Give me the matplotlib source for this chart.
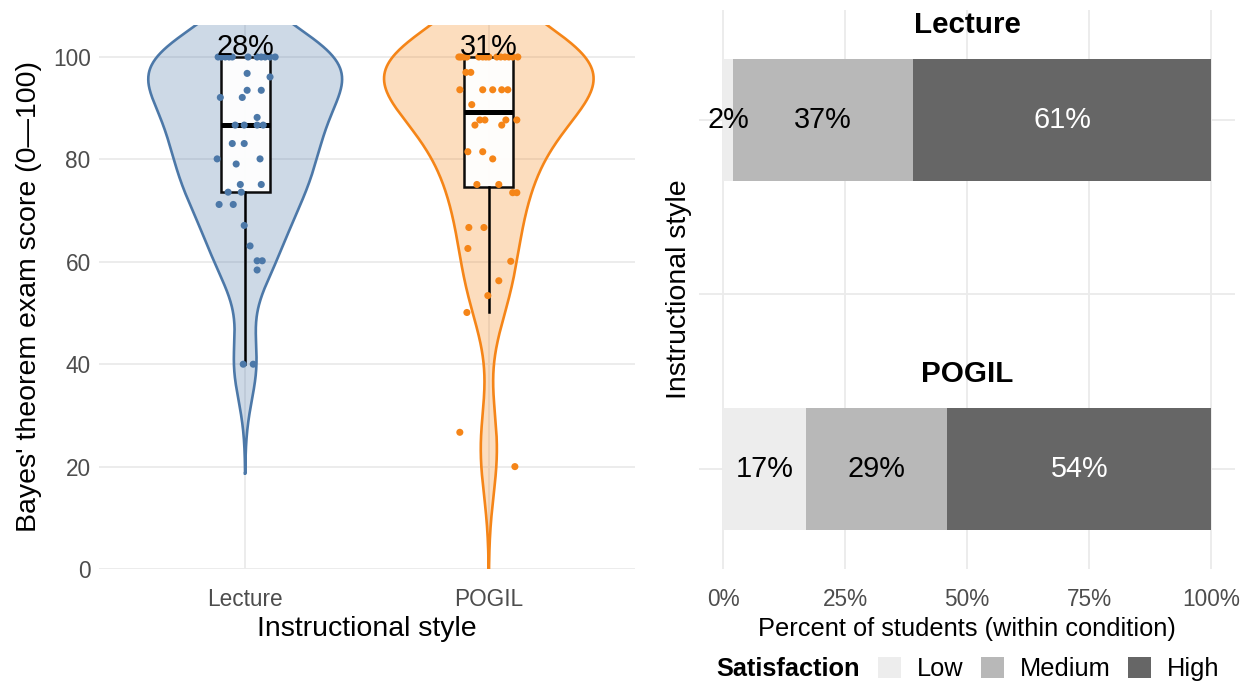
import numpy as np
import matplotlib.pyplot as plt
from matplotlib import cbook
from matplotlib.patches import Patch

plt.rcParams["font.family"] = ["Liberation Sans", "DejaVu Sans"]

# ---------------- data ----------------
styles = ["Lecture", "POGIL"]
style_colors = ["#4C78A8", "#F58518"]
perfect_labels = ["28%", "31%"]

# exam scores, with the horizontal jitter of each dot
lecture_scores = [100] * 11 + [96.8, 96.1, 93.5, 93.5, 92.1, 92.1, 88.2,
                               86.7, 86.7, 86.7, 86.7, 83.1, 83.1, 80.1, 80.1,
                               79.1, 75.1, 75.1, 73.6, 73.6, 71.2, 71.2, 67.1,
                               63.1, 60.2, 60.2, 58.4, 40.0, 40.0]
lecture_jitter = [-0.111, -0.098, -0.082, -0.066, -0.053, 0.012, 0.049, 0.066,
                  0.082, 0.102, 0.123,
                  0.008, 0.102, 0.008, 0.066, -0.102, -0.012, 0.049,
                  -0.041, -0.004, 0.049, 0.074, -0.053, -0.004, -0.115, 0.061,
                  -0.037, -0.020, 0.066, -0.070, -0.016, -0.107, -0.049, -0.004,
                  0.020, 0.049, 0.070, 0.049, -0.008, 0.033]

pogil_scores = [100] * 14 + [97.0, 97.0, 93.6, 93.6, 93.6, 93.6, 93.6, 90.7,
                             87.7, 87.7, 87.7, 87.7, 86.7, 86.7, 81.5, 81.5,
                             80.1, 75.1, 75.1, 73.5, 73.5, 66.7, 66.7, 62.6,
                             60.1, 56.3, 53.4, 50.1, 26.7, 20.0]
pogil_jitter = [-0.123, -0.115, -0.102, -0.090, -0.041, -0.025, -0.012, 0.0,
                0.033, 0.049, 0.066, 0.082, 0.098, 0.119,
                -0.094, -0.074, -0.119, -0.025, 0.016, 0.053, 0.078, -0.070,
                -0.037, -0.016, 0.070, 0.115, -0.057, 0.053, -0.086, -0.025,
                0.016, -0.049, 0.041, 0.098, 0.115, -0.082, -0.020, -0.086,
                0.090, 0.041, -0.004, -0.090, -0.119, 0.107]

satisfaction = ["Low", "Medium", "High"]
sat_colors = ["#EDEDED", "#B8B8B8", "#666666"]
sat_text_colors = ["black", "black", "white"]
lecture_pct = [2, 37, 61]
pogil_pct = [17, 29, 54]
pct_ticks = [0, 25, 50, 75, 100]

GRID = "#EBEBEB"
TICK = "#4D4D4D"
TITLE_FS = 20.5
TICK_FS = 16.3


def bw_nrd0(x):
    x = np.asarray(x, float)
    q1, q3 = np.percentile(x, [25, 75])
    return 0.9 * min(x.std(ddof=1), (q3 - q1) / 1.34) * len(x) ** -0.2


def kde(x, n=512):
    x = np.asarray(x, float)
    bw = bw_nrd0(x)
    grid = np.linspace(x.min() - 3 * bw, x.max() + 3 * bw, n)
    dens = np.exp(-0.5 * ((grid[:, None] - x[None, :]) / bw) ** 2).sum(1)
    dens /= len(x) * bw * np.sqrt(2 * np.pi)
    return grid, dens


fig = plt.figure(figsize=(12.44, 6.82), dpi=100)
W, H = 1244, 682

# ---------------- left: violin + box + points ----------------
ax1 = fig.add_axes([99 / W, 1 - 569 / H, 536 / W, 544 / H])
groups = [lecture_scores, pogil_scores]
jitters = [lecture_jitter, pogil_jitter]
dens = [kde(g) for g in groups]
dmax = max(d.max() for _, d in dens)

for i, ((grid, d), col) in enumerate(zip(dens, style_colors)):
    pos = i + 1
    hw = 0.43 * d / dmax
    ax1.fill_betweenx(grid, pos - hw, pos + hw, facecolor=col, alpha=0.28,
                      edgecolor="none", zorder=2)
    xs = np.concatenate([pos - hw, (pos + hw)[::-1], [pos - hw[0]]])
    ys = np.concatenate([grid, grid[::-1], [grid[0]]])
    ax1.plot(xs, ys, color=col, lw=1.9, zorder=3)

stats = cbook.boxplot_stats(groups, whis=1.5)
ax1.bxp(stats, positions=[1, 2], widths=0.2, showfliers=False, showcaps=False,
        patch_artist=True,
        boxprops=dict(facecolor="white", alpha=0.95, edgecolor="black", lw=1.8),
        whiskerprops=dict(color="black", lw=1.8),
        medianprops=dict(color="black", lw=3.6), zorder=4)

for i, (g, j, col) in enumerate(zip(groups, jitters, style_colors)):
    ax1.scatter(np.array(j) + i + 1, g, s=26, color=col, edgecolors="none", zorder=5)
    ax1.text(i + 1, 100.4, perfect_labels[i], ha="center", va="baseline",
             fontsize=20.8, color="black", zorder=6)

ax1.set_xlim(0.4, 2.6)
ax1.set_ylim(0, 106.25)
ax1.set_yticks([0, 20, 40, 60, 80, 100])
ax1.set_xticks([1, 2])
ax1.set_xticklabels(styles)
ax1.grid(True, color=GRID, lw=1.3, zorder=0)
ax1.set_axisbelow(True)
for s in ax1.spines.values():
    s.set_visible(False)
ax1.tick_params(length=0, labelsize=TICK_FS, labelcolor=TICK)
ax1.tick_params(axis="x", pad=14)
ax1.tick_params(axis="y", pad=6)
ax1.set_xlabel("Instructional style", fontsize=TITLE_FS, labelpad=3)
ax1.set_ylabel("Bayes' theorem exam score (0\u2014100)", fontsize=TITLE_FS)
ax1.yaxis.set_label_coords(-0.106, 0.5)

# ---------------- right: stacked satisfaction bars ----------------
ax2 = fig.add_axes([698.6 / W, 1 - 569 / H, 536.8 / W, 559 / H])
rows = [lecture_pct, pogil_pct]
for r, pcts in enumerate(rows):
    y = r + 1
    left = 0
    for k, p in enumerate(pcts):
        ax2.barh(y, p, left=left, height=0.347, color=sat_colors[k],
                 edgecolor="none", zorder=2)
        ax2.text(left + p / 2, y, f"{p}%", ha="center", va="center",
                 fontsize=20.8, color=sat_text_colors[k], zorder=3)
        left += p
    ax2.text(50, y - 0.273, styles[r], ha="center", va="center",
             fontsize=21.3, fontweight="bold")

ax2.set_xlim(-5, 105)
ax2.set_ylim(2.2865, 0.685)
ax2.set_xticks(pct_ticks)
ax2.set_xticklabels([f"{t}%" for t in pct_ticks])
ax2.set_yticks([1, 1.5, 2])
ax2.set_yticklabels([])
ax2.grid(True, color=GRID, lw=1.3, zorder=0)
ax2.set_axisbelow(True)
for s in ax2.spines.values():
    s.set_visible(False)
ax2.tick_params(length=0, labelsize=TICK_FS, labelcolor=TICK)
ax2.tick_params(axis="x", pad=14)
ax2.set_xlabel("Percent of students (within condition)", fontsize=18.3, labelpad=4)
ax2.set_ylabel("Instructional style", fontsize=TITLE_FS)
ax2.yaxis.set_label_coords(-0.013, 0.5)

# legend at the bottom
fig.text(716 / W, 1 - 669 / H, "Satisfaction", fontsize=18.3, fontweight="bold",
         ha="left", va="center")
handles = [Patch(facecolor=c, edgecolor="none") for c in sat_colors]
fig.legend(handles, satisfaction, loc="center left",
           bbox_to_anchor=(878 / W, 1 - 669 / H), ncol=3, frameon=False,
           fontsize=18.3, borderpad=0, borderaxespad=0, handlelength=0.9,
           handleheight=0.9, handletextpad=0.62, columnspacing=0.7)

fig.savefig("out.png", dpi=100)
